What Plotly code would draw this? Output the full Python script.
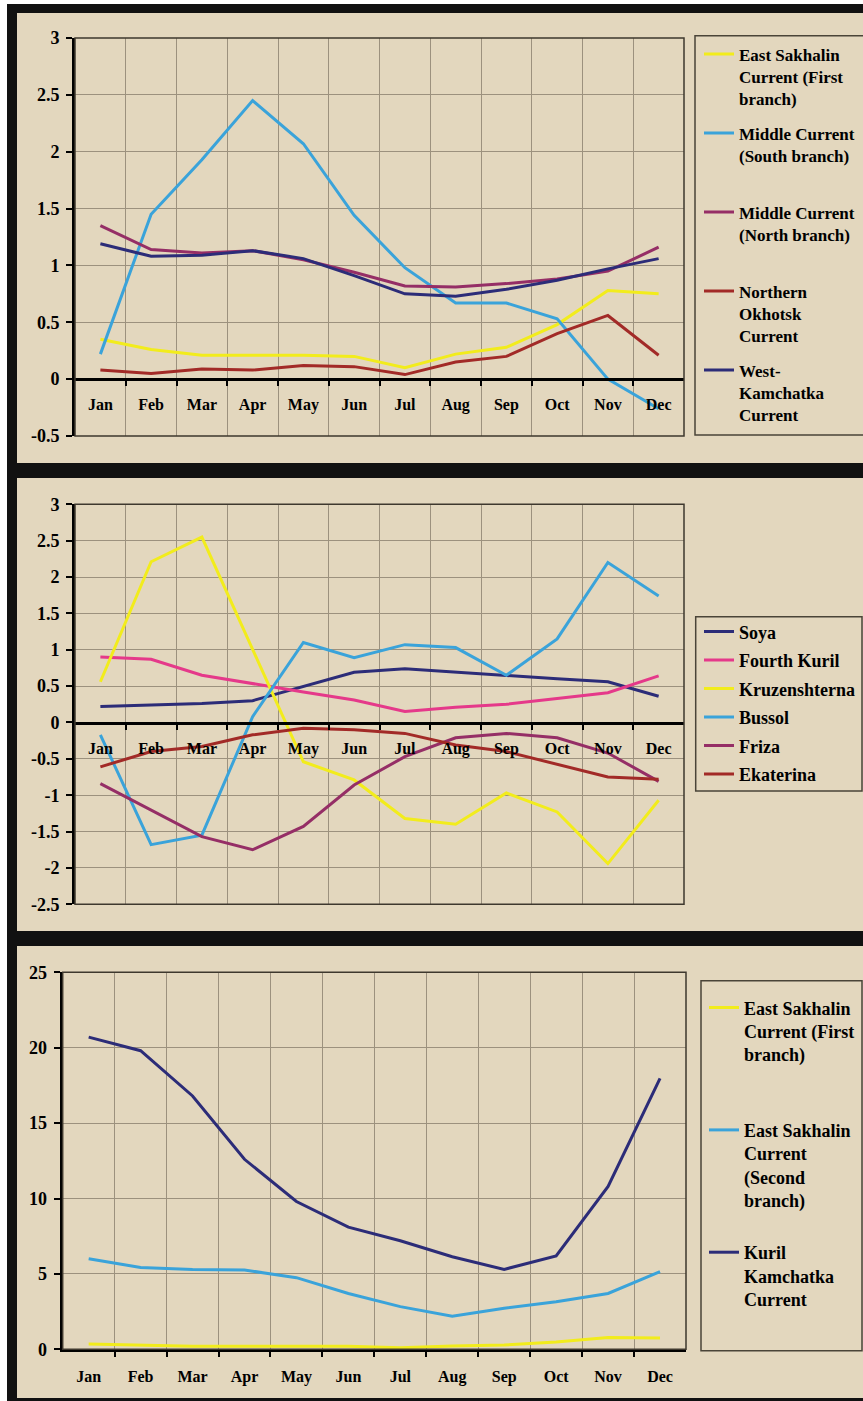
import plotly.graph_objects as go

W, H = 863, 1401

months = ["Jan", "Feb", "Mar", "Apr", "May", "Jun", "Jul", "Aug", "Sep", "Oct", "Nov", "Dec"]
month_idx = list(range(12))

# ---- Panel 1 data ----
es_first = [0.35, 0.26, 0.21, 0.21, 0.21, 0.20, 0.10, 0.22, 0.28, 0.48, 0.78, 0.75]
mid_south = [0.22, 1.45, 1.93, 2.45, 2.07, 1.44, 0.98, 0.67, 0.67, 0.53, 0.00, -0.26]
mid_north = [1.35, 1.14, 1.11, 1.13, 1.05, 0.94, 0.82, 0.81, 0.84, 0.88, 0.95, 1.16]
n_okhotsk = [0.08, 0.05, 0.09, 0.08, 0.12, 0.11, 0.04, 0.15, 0.20, 0.40, 0.56, 0.21]
w_kamchatka = [1.19, 1.08, 1.09, 1.13, 1.06, 0.91, 0.75, 0.73, 0.79, 0.87, 0.97, 1.06]
p1_ticks = [-0.5, 0, 0.5, 1, 1.5, 2, 2.5, 3]
p1_labels = ["-0.5", "0", "0.5", "1", "1.5", "2", "2.5", "3"]

# ---- Panel 2 data ----
soya = [0.22, 0.24, 0.26, 0.30, 0.50, 0.69, 0.74, 0.69, 0.64, 0.60, 0.56, 0.36]
fourth_kuril = [0.90, 0.87, 0.65, 0.53, 0.42, 0.31, 0.15, 0.21, 0.25, 0.33, 0.41, 0.64]
kruzenshterna = [0.56, 2.21, 2.55, 1.00, -0.54, -0.79, -1.32, -1.40, -0.97, -1.23, -1.94, -1.07]
bussol = [-0.17, -1.68, -1.55, 0.08, 1.10, 0.89, 1.07, 1.03, 0.65, 1.15, 2.20, 1.74]
friza = [-0.84, -1.20, -1.57, -1.75, -1.43, -0.86, -0.47, -0.21, -0.15, -0.21, -0.42, -0.81]
ekaterina = [-0.61, -0.40, -0.33, -0.17, -0.08, -0.10, -0.15, -0.31, -0.40, -0.58, -0.75, -0.78]
p2_ticks = [-2.5, -2, -1.5, -1, -0.5, 0, 0.5, 1, 1.5, 2, 2.5, 3]
p2_labels = ["-2.5", "-2", "-1.5", "-1", "-0.5", "0", "0.5", "1", "1.5", "2", "2.5", "3"]

# ---- Panel 3 data ----
es_second = [6.0, 5.42, 5.3, 5.26, 4.75, 3.7, 2.83, 2.2, 2.72, 3.16, 3.7, 5.15]
kuril_kamchatka = [20.7, 19.8, 16.8, 12.6, 9.8, 8.1, 7.2, 6.14, 5.3, 6.19, 10.8, 17.97]
p3_ticks = [0, 5, 10, 15, 20, 25]
p3_labels = ["0", "5", "10", "15", "20", "25"]

YELLOW = "#F2EC1C"
LBLUE = "#3AA3DA"
PURPLE = "#952E66"
DRED = "#A22A27"
NAVY = "#2C2C78"
PINK = "#E5398A"

BG = "#E3D7BE"
GRID = "#9C917E"
FRAME = "#3E382E"
LEGBORDER = "#4A4438"
SERIF = "Liberation Serif"


def py(p):
    return 1 - p / H


def px(p):
    return p / W


fig = go.Figure()


def add(x_ax, y_ax, name, vals, color, legend):
    fig.add_trace(go.Scatter(
        x=month_idx, y=vals, mode="lines", name=name,
        line=dict(color=color, width=3),
        xaxis=x_ax, yaxis=y_ax, legend=legend, legendgroup=name,
    ))


add("x", "y", "East Sakhalin<br>Current (First<br>branch)", es_first, YELLOW, "legend")
add("x", "y", "Middle Current<br>(South branch)<br> ", mid_south, LBLUE, "legend")
add("x", "y", "Middle Current<br>(North branch)<br> ", mid_north, PURPLE, "legend")
add("x", "y", "Northern<br>Okhotsk<br>Current", n_okhotsk, DRED, "legend")
add("x", "y", "West-<br>Kamchatka<br>Current", w_kamchatka, NAVY, "legend")

add("x2", "y2", "Soya", soya, NAVY, "legend2")
add("x2", "y2", "Fourth Kuril", fourth_kuril, PINK, "legend2")
add("x2", "y2", "Kruzenshterna", kruzenshterna, YELLOW, "legend2")
add("x2", "y2", "Bussol", bussol, LBLUE, "legend2")
add("x2", "y2", "Friza", friza, PURPLE, "legend2")
add("x2", "y2", "Ekaterina", ekaterina, DRED, "legend2")

add("x3", "y3", "East Sakhalin<br>Current (First<br>branch)<br> <br> ", es_first, YELLOW, "legend3")
add("x3", "y3", "East Sakhalin<br>Current<br>(Second<br>branch)<br> ", es_second, LBLUE, "legend3")
add("x3", "y3", "Kuril<br>Kamchatka<br>Current", kuril_kamchatka, NAVY, "legend3")

tickfont_x = dict(family=SERIF, size=16, color="black", weight="bold")
tickfont_y = dict(family=SERIF, size=18, color="black", weight="bold")
boundaries = [i + 0.5 for i in range(11)]


def xaxis_cfg(x0, x1, anchor, position=None):
    cfg = dict(
        domain=[px(x0), px(x1)], range=[-0.5, 11.5],
        tickmode="array", tickvals=month_idx, ticktext=months,
        ticks="", showgrid=False, zeroline=False,
        showline=True, linecolor="black", linewidth=3,
        tickfont=tickfont_x, ticklabelstandoff=10,
        minor=dict(tickvals=boundaries, showgrid=True, gridcolor=GRID, gridwidth=1.2,
                   ticks="outside", ticklen=5, tickwidth=2, tickcolor="black"),
        fixedrange=True,
    )
    if position is None:
        cfg["anchor"] = anchor
    else:
        cfg["anchor"] = "free"
        cfg["position"] = position
    return cfg


def yaxis_cfg(top, bottom, rng, tv, tt, anchor):
    return dict(
        domain=[py(bottom), py(top)], range=rng, anchor=anchor,
        tickmode="array", tickvals=tv, ticktext=tt,
        showgrid=True, gridcolor=GRID, gridwidth=1.2, zeroline=False,
        showline=True, linecolor="black", linewidth=3,
        ticks="outside", ticklen=6, tickwidth=2, tickcolor="black",
        tickfont=tickfont_y, ticklabelstandoff=3, fixedrange=True,
    )


def legend_cfg(x, y, gap, size):
    return dict(
        x=px(x), y=py(y), xanchor="left", yanchor="top",
        xref="paper", yref="paper",
        bgcolor="rgba(0,0,0,0)", borderwidth=0,
        font=dict(family=SERIF, size=size, color="black", weight="bold"),
        valign="top", tracegroupgap=gap,
        itemwidth=30, traceorder="grouped",
    )


shapes = []
for xr, yr in [("x", "y"), ("x2", "y2"), ("x3", "y3")]:
    shapes.append(dict(type="rect", xref=xr + " domain", yref=yr + " domain",
                       x0=0, x1=1, y0=0, y1=1, line=dict(color=FRAME, width=1.5),
                       layer="above"))

# legend boxes
for (lx0, ly0, lx1, ly1) in [(695, 35.7, 875, 435), (695.7, 616.7, 862, 791), (701, 980.7, 862, 1350.7)]:
    shapes.append(dict(type="rect", xref="paper", yref="paper",
                       x0=px(lx0), x1=px(lx1), y0=py(ly1), y1=py(ly0),
                       line=dict(color=LEGBORDER, width=1.5), layer="below"))

# white page edge and black outer frame / panel separators
shapes += [
    dict(type="rect", xref="paper", yref="paper", x0=0, x1=px(7), y0=0, y1=1,
         fillcolor="white", line=dict(width=0), layer="above"),
    dict(type="rect", xref="paper", yref="paper", x0=0, x1=1, y0=py(4), y1=1,
         fillcolor="white", line=dict(width=0), layer="above"),
    dict(type="rect", xref="paper", yref="paper", x0=px(7), x1=px(17), y0=0, y1=py(4),
         fillcolor="#111111", line=dict(width=0), layer="above"),
    dict(type="rect", xref="paper", yref="paper", x0=px(7), x1=1, y0=py(13), y1=py(4),
         fillcolor="#111111", line=dict(width=0), layer="above"),
    dict(type="rect", xref="paper", yref="paper", x0=px(7), x1=1, y0=py(478), y1=py(463),
         fillcolor="#111111", line=dict(width=0), layer="above"),
    dict(type="rect", xref="paper", yref="paper", x0=px(7), x1=1, y0=py(946), y1=py(931),
         fillcolor="#111111", line=dict(width=0), layer="above"),
    dict(type="rect", xref="paper", yref="paper", x0=px(7), x1=1, y0=0, y1=py(1398),
         fillcolor="#111111", line=dict(width=0), layer="above"),
]

fig.update_layout(
    width=W, height=H,
    margin=dict(l=0, r=0, t=0, b=0, pad=0, autoexpand=False),
    paper_bgcolor=BG, plot_bgcolor=BG,
    showlegend=True,
    xaxis=xaxis_cfg(75, 684, "y", position=py(379)),
    yaxis=yaxis_cfg(38, 436, [-0.5, 3], p1_ticks, p1_labels, "x"),
    xaxis2=xaxis_cfg(75, 684, "y2", position=py(722.5)),
    yaxis2=yaxis_cfg(504.3, 904.3, [-2.5, 3], p2_ticks, p2_labels, "x2"),
    xaxis3=xaxis_cfg(62.7, 686, "y3"),
    yaxis3=yaxis_cfg(972.3, 1349.3, [0, 25], p3_ticks, p3_labels, "x3"),
    legend=legend_cfg(699, 36.5, 9.7, 17),
    legend2=legend_cfg(699, 613.4, 2.1, 18),
    legend3=legend_cfg(704, 989.4, 2.3, 18),
    shapes=shapes,
)

fig.write_html(
    "out.html",
    config={"displayModeBar": False},
    post_script="document.body.style.margin='0';document.body.style.overflow='hidden';",
)
